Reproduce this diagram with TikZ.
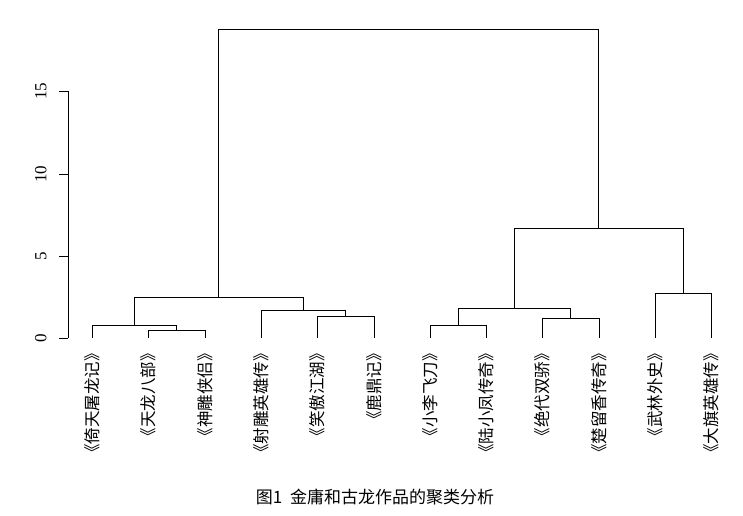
\documentclass[tikz,border=0pt]{standalone}
\usepackage{fontspec}
\setmainfont{Liberation Serif}
\newfontfamily\cjk{Noto Sans CJK SC}
\begin{document}
\begin{tikzpicture}[x=1pt,y=-1pt,line width=0.8pt,
  leaf/.style={rotate=90,anchor=east,font=\cjk\fontsize{16.5}{16.5}\selectfont,inner sep=0pt},
  tick/.style={rotate=90,anchor=south,font=\fontsize{17}{17}\selectfont,inner sep=0pt}]
\useasboundingbox (0,0) rectangle (743,515);
% axis
\draw (68,338) -- (68,91);
\foreach \v/\y in {0/338,5/256,10/174,15/91}{
  \coordinate (t\v) at (68,\y);
  \draw (t\v) -- ++(-9,0);
  \node[tick] (l\v) at (47,\y) {\v};
}
% leaves
\foreach \i/\x/\t in {1/92/倚天屠龙记,2/148/天龙八部,3/205/神雕侠侣,4/261/射雕英雄传,5/317/笑傲江湖,6/374/鹿鼎记,7/430/小李飞刀,8/486/陆小凤传奇,9/542/绝代双骄,10/599/楚留香传奇,11/655/武林外史,12/711/大旗英雄传}{
  \coordinate (p\i) at (\x,338);
  \node[leaf] (n\i) at (\x,345) {《\t》};
}
\newcommand\mrg[5]{% left x, right x, left bottom y, right bottom y, top y
  \draw (#1,#3) -- (#1,#5) -- (#2,#5) -- (#2,#4);}
\mrg{148}{205}{338}{338}{330}
\mrg{92}{176.5}{338}{330}{325}
\mrg{317}{374}{338}{338}{316}
\mrg{261}{345.5}{338}{316}{310}
\mrg{134}{303}{325}{310}{297}
\mrg{430}{486}{338}{338}{325}
\mrg{542}{599}{338}{338}{318}
\mrg{458}{570.5}{325}{318}{308}
\mrg{655}{711}{338}{338}{293}
\mrg{514}{683}{308}{293}{228}
\mrg{218.5}{598.5}{297}{228}{29}
\node[font=\cjk\fontsize{17}{17}\selectfont] (cap) at (375,497) {图1\ \ 金庸和古龙作品的聚类分析};
\end{tikzpicture}
\end{document}
